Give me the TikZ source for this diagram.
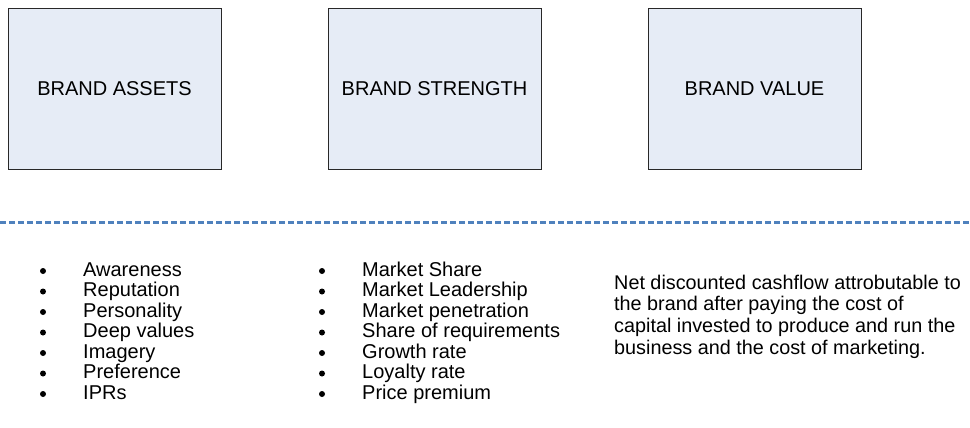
\documentclass[tikz,border=0pt]{standalone}
\usepackage{fontspec}
\setmainfont{Liberation Sans}
\definecolor{boxfill}{RGB}{230,236,246}
\definecolor{boxline}{RGB}{40,40,40}
\definecolor{dashblue}{RGB}{79,129,189}
\begin{document}
\begin{tikzpicture}[x=1pt,y=-1pt,
  brandbox/.style={draw=boxline, fill=boxfill, line width=1pt, minimum width=213pt, minimum height=160pt, inner sep=0pt, font=\fontsize{20}{22}\selectfont},
  item/.style={anchor=base west, inner sep=0pt, font=\fontsize{20}{22}\selectfont},
  para/.style={anchor=base west, inner sep=0pt, font=\fontsize{19.8}{22}\selectfont},
  dot/.style={circle, fill=black, draw=none, inner sep=0pt, minimum size=6pt}]
\useasboundingbox (0,0) rectangle (970,428);
\node[brandbox] (assets) at (114.5,89) {BRAND ASSETS};
\node[brandbox] (strength) at (434.5,89) {BRAND STRENGTH};
\node[brandbox] (value) at (754.5,89) {BRAND VALUE};
\coordinate (dl) at (0,222.5);
\coordinate (dr) at (970,222.5);
\draw[dashblue, line width=3pt, dash pattern=on 6pt off 3pt] (dl) -- (dr);
% column 1
\foreach \t [count=\i] in {Awareness,Reputation,Personality,Deep values,Imagery,Preference,IPRs} {
  \node[dot] (ad\i) at (43,{271+20.5*(\i-1)}) {};
  \node[item] (at\i) at (83,{276+20.5*(\i-1)}) {\t};
}
% column 2
\foreach \t [count=\i] in {Market Share,Market Leadership,Market penetration,Share of requirements,Growth rate,Loyalty rate,Price premium} {
  \node[dot] (sd\i) at (322,{271+20.5*(\i-1)}) {};
  \node[item] (st\i) at (362,{276+20.5*(\i-1)}) {\t};
}
% paragraph
\node[para] (p1) at (614,289) {Net discounted cashflow attrobutable to};
\node[para] (p2) at (614,310.7) {the brand after paying the cost of};
\node[para] (p3) at (614,332.4) {capital invested to produce and run the};
\node[para] (p4) at (614,354) {business and the cost of marketing.};
\end{tikzpicture}
\end{document}
